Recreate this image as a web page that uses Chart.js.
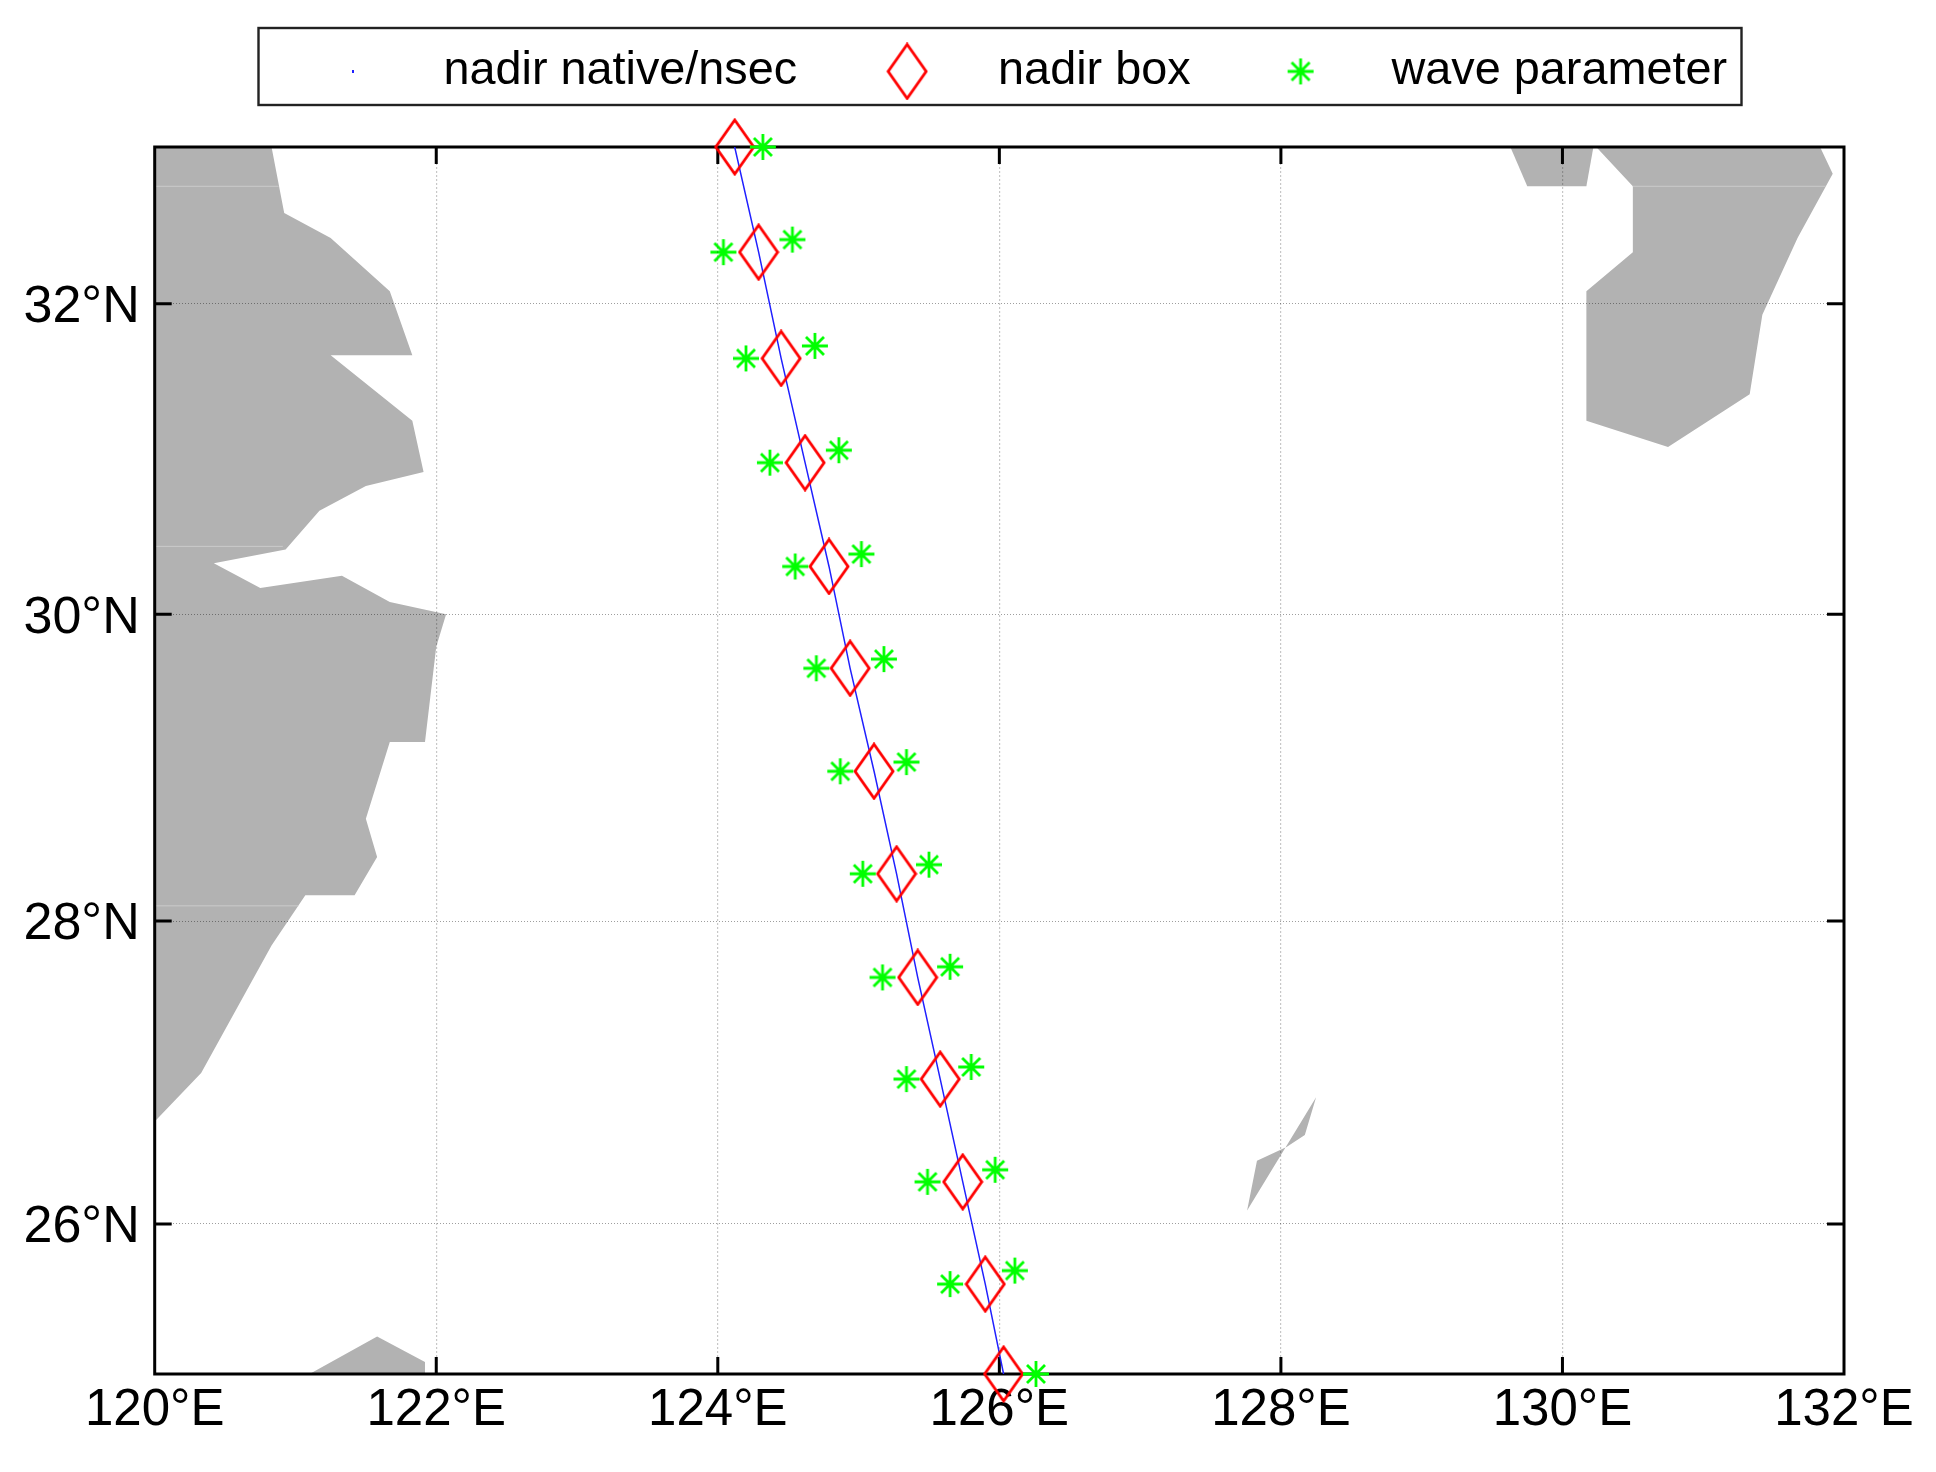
<!DOCTYPE html>
<html>
<head>
<meta charset="utf-8">
<title>nadir track</title>
<script src="https://cdn.jsdelivr.net/npm/chart.js@4/dist/chart.umd.min.js"></script>
<style>
    html, body { margin: 0; padding: 0; background: #fff; }
    canvas { display: block; }
</style>
</head>
<body>
<canvas id="trackChart" width="1936" height="1472"></canvas>
<script>
// Axis ticks
const lonTicks = [120, 122, 124, 126, 128, 130, 132];
const latTicks = [32, 30, 28, 26];

// Series
const seriesNames = ['nadir native/nsec', 'nadir box', 'wave parameter'];
const boxLon = [124.12, 124.29, 124.45, 124.62, 124.79, 124.94, 125.11, 125.27, 125.42, 125.58, 125.74, 125.90, 126.03];
const boxLat = [33.0, 32.33, 31.65, 30.98, 30.31, 29.65, 28.98, 28.31, 27.63, 26.96, 26.28, 25.60, 25.0];
const waveLeftLon = [124.04, 124.20, 124.37, 124.55, 124.70, 124.87, 125.03, 125.17, 125.34, 125.49, 125.65];
const waveLeftLat = [32.33, 31.65, 30.98, 30.31, 29.65, 28.98, 28.31, 27.63, 26.96, 26.28, 25.60];
const waveRightLon = [124.32, 124.53, 124.69, 124.86, 125.02, 125.18, 125.34, 125.50, 125.65, 125.80, 125.97, 126.11, 126.26];
const waveRightLat = [33.0, 32.41, 31.73, 31.06, 30.39, 29.71, 29.04, 28.37, 27.70, 27.04, 26.36, 25.69, 25.0];

// Land outlines [lon, lat]
const landWest = [[120, 33], [120.83, 33], [120.92, 32.58], [121.25, 32.42], [121.67, 32.08], [121.83, 31.67], [121.25, 31.67],
    [121.83, 31.25], [121.91, 30.92], [121.50, 30.83], [121.17, 30.67], [120.93, 30.42], [120.42, 30.33], [120.75, 30.17],
    [121.33, 30.25], [121.67, 30.08], [122.07, 30.0], [122.0, 29.79], [121.92, 29.17], [121.67, 29.17], [121.50, 28.67],
    [121.58, 28.42], [121.42, 28.17], [121.07, 28.17], [120.83, 27.84], [120.33, 27.0], [120, 26.68]];
const landSouth = [[121.10, 25], [121.58, 25.25], [121.92, 25.08], [121.92, 25]];
const landNorth = [[129.63, 33], [129.75, 32.75], [130.17, 32.75], [130.22, 33]];
const landEast = [[130.24, 33], [130.50, 32.75], [130.50, 32.33], [130.17, 32.08], [130.17, 31.25], [130.75, 31.08],
    [131.33, 31.42], [131.42, 31.93], [131.67, 32.42], [131.92, 32.83], [131.83, 33]];
const landIslet = [[127.76, 26.09], [127.83, 26.42], [128.04, 26.51], [128.17, 26.59], [128.25, 26.84]];
const landShapes = [landWest, landSouth, landNorth, landEast, landIslet];

// Faint patch seams across the land
const landSeams = [
    [[120, 32.75], [120.88, 32.75]],
    [[120, 30.44], [120.91, 30.44]],
    [[120, 28.10], [121.02, 28.10]],
    [[130.5, 32.75], [131.87, 32.75]]
];

function toPoints(lons, lats) {
    return lons.map((lon, i) => ({ x: lon, y: lats[i] }));
}

function pairsToPoints(pairs) {
    return pairs.map(p => ({ x: p[0], y: p[1] }));
}

// Marker images
function makeDiamond() {
    const c = document.createElement('canvas');
    c.width = 42;
    c.height = 58;
    const g = c.getContext('2d');
    g.strokeStyle = '#ff0000';
    g.lineWidth = 2.8;
    g.lineJoin = 'miter';
    g.beginPath();
    g.moveTo(21, 2);
    g.lineTo(40, 29);
    g.lineTo(21, 56);
    g.lineTo(2, 29);
    g.closePath();
    g.stroke();
    return c;
}

function makeStar() {
    const c = document.createElement('canvas');
    c.width = 28;
    c.height = 28;
    const g = c.getContext('2d');
    g.strokeStyle = '#00ff00';
    g.lineWidth = 2.8;
    g.beginPath();
    g.moveTo(1, 14); g.lineTo(27, 14);
    g.moveTo(14, 1); g.lineTo(14, 27);
    g.moveTo(5, 5); g.lineTo(23, 23);
    g.moveTo(23, 5); g.lineTo(5, 23);
    g.stroke();
    return c;
}

function makeDot() {
    const c = document.createElement('canvas');
    c.width = 2;
    c.height = 3;
    const g = c.getContext('2d');
    g.fillStyle = '#2020ff';
    g.fillRect(0, 0, 2, 3);
    return c;
}

// Latitude axis is slightly stretched towards the north
function stretch(lat) {
    const d = lat - 29;
    return d + 0.00314 * d * d;
}

class LatScale extends Chart.LinearScale {
    getPixelForValue(value) {
        const lo = stretch(this.min);
        const hi = stretch(this.max);
        return this.getPixelForDecimal((stretch(value) - lo) / (hi - lo));
    }
}
LatScale.id = 'lat';
LatScale.defaults = Chart.LinearScale.defaults;
Chart.register(LatScale);

// Legend frame, axis frame and inward ticks
const framePlugin = {
    id: 'frame',
    afterLayout(chart) {
        const legend = chart.legend;
        legend.left = 242.5;
        legend.right = 1800;
        legend.top = 5.5;
        legend.bottom = 106;
    },
    beforeDatasetDraw(chart, args) {
        if (args.index !== 0) return;
        const ctx = chart.ctx;
        const area = chart.chartArea;
        ctx.save();
        ctx.strokeStyle = '#000';
        ctx.lineWidth = 3;
        ctx.strokeRect(area.left, area.top, area.right - area.left, area.bottom - area.top);
        ctx.beginPath();
        lonTicks.slice(1, -1).forEach(lon => {
            const x = chart.scales.x.getPixelForValue(lon);
            ctx.moveTo(x, area.top);
            ctx.lineTo(x, area.top + 17);
            ctx.moveTo(x, area.bottom);
            ctx.lineTo(x, area.bottom - 17);
        });
        latTicks.forEach(lat => {
            const y = chart.scales.y.getPixelForValue(lat);
            ctx.moveTo(area.left, y);
            ctx.lineTo(area.left + 17, y);
            ctx.moveTo(area.right, y);
            ctx.lineTo(area.right - 17, y);
        });
        ctx.stroke();
        ctx.restore();
    },
    afterDraw(chart) {
        const ctx = chart.ctx;
        ctx.save();
        ctx.strokeStyle = '#222';
        ctx.lineWidth = 2.4;
        ctx.strokeRect(258.5, 28, 1483, 77);
        ctx.restore();
    }
};

const datasets = [
    {
        label: seriesNames[0],
        data: toPoints(boxLon, boxLat),
        showLine: true,
        borderColor: '#2020ff',
        borderWidth: 1.5,
        pointRadius: 0,
        pointStyle: makeDot(),
        order: 3
    },
    {
        label: seriesNames[1],
        data: toPoints(boxLon, boxLat),
        showLine: false,
        pointRadius: 27,
        pointStyle: makeDiamond(),
        clip: false,
        order: 2
    },
    {
        label: seriesNames[2],
        data: toPoints(waveLeftLon, waveLeftLat).concat(toPoints(waveRightLon, waveRightLat)),
        showLine: false,
        pointRadius: 14,
        pointStyle: makeStar(),
        clip: false,
        order: 1
    }
];

landSeams.forEach(seam => {
    datasets.push({
        label: 'seam',
        data: pairsToPoints(seam),
        showLine: true,
        borderColor: '#cccccc',
        borderWidth: 1,
        pointRadius: 0,
        order: 9
    });
});

landShapes.forEach(shape => {
    datasets.push({
        label: 'land',
        data: pairsToPoints(shape.concat([shape[0]])),
        showLine: true,
        fill: 'shape',
        backgroundColor: '#b2b2b2',
        borderWidth: 0,
        pointRadius: 0,
        order: 10
    });
});

const sansFamily = '"Liberation Sans", Arial, sans-serif';

new Chart(document.getElementById('trackChart'), {
    type: 'scatter',
    data: { datasets: datasets },
    plugins: [framePlugin],
    options: {
        responsive: false,
        devicePixelRatio: 1,
        animation: false,
        events: [],
        layout: { padding: { top: 127, right: 92, bottom: 0, left: 0 } },
        plugins: {
            tooltip: { enabled: false },
            legend: {
                position: 'top',
                align: 'start',
                maxHeight: 20,
                labels: {
                    usePointStyle: true,
                    pointStyleWidth: 135,
                    padding: 42.5,
                    color: '#000',
                    font: { family: sansFamily, size: 46.8, lineHeight: 1.2 },
                    filter: item => item.datasetIndex < 3,
                    sort: (a, b) => a.datasetIndex - b.datasetIndex
                }
            }
        },
        scales: {
            x: {
                type: 'linear',
                min: 120,
                max: 132,
                afterBuildTicks: axis => { axis.ticks = lonTicks.map(v => ({ value: v })); },
                afterFit: axis => { axis.height = 98; },
                border: { display: false, dash: [2, 2] },
                grid: { color: 'rgba(0, 0, 0, 0.22)', lineWidth: 1.2, drawTicks: false, z: 1 },
                ticks: {
                    autoSkip: false,
                    maxRotation: 0,
                    padding: 6,
                    color: '#000',
                    font: { family: sansFamily, size: 51 },
                    callback: v => v + '°E'
                }
            },
            y: {
                type: 'lat',
                min: 25,
                max: 33,
                afterBuildTicks: axis => { axis.ticks = latTicks.map(v => ({ value: v })); },
                afterFit: axis => { axis.width = 154.7; },
                border: { display: false, dash: [1, 2] },
                grid: { color: 'rgba(0, 0, 0, 0.38)', lineWidth: 1, drawTicks: false, z: 1 },
                ticks: {
                    autoSkip: false,
                    padding: 15,
                    labelOffset: 4,
                    color: '#000',
                    font: { family: sansFamily, size: 52 },
                    callback: v => v + '°N'
                }
            }
        }
    }
});
</script>
</body>
</html>
